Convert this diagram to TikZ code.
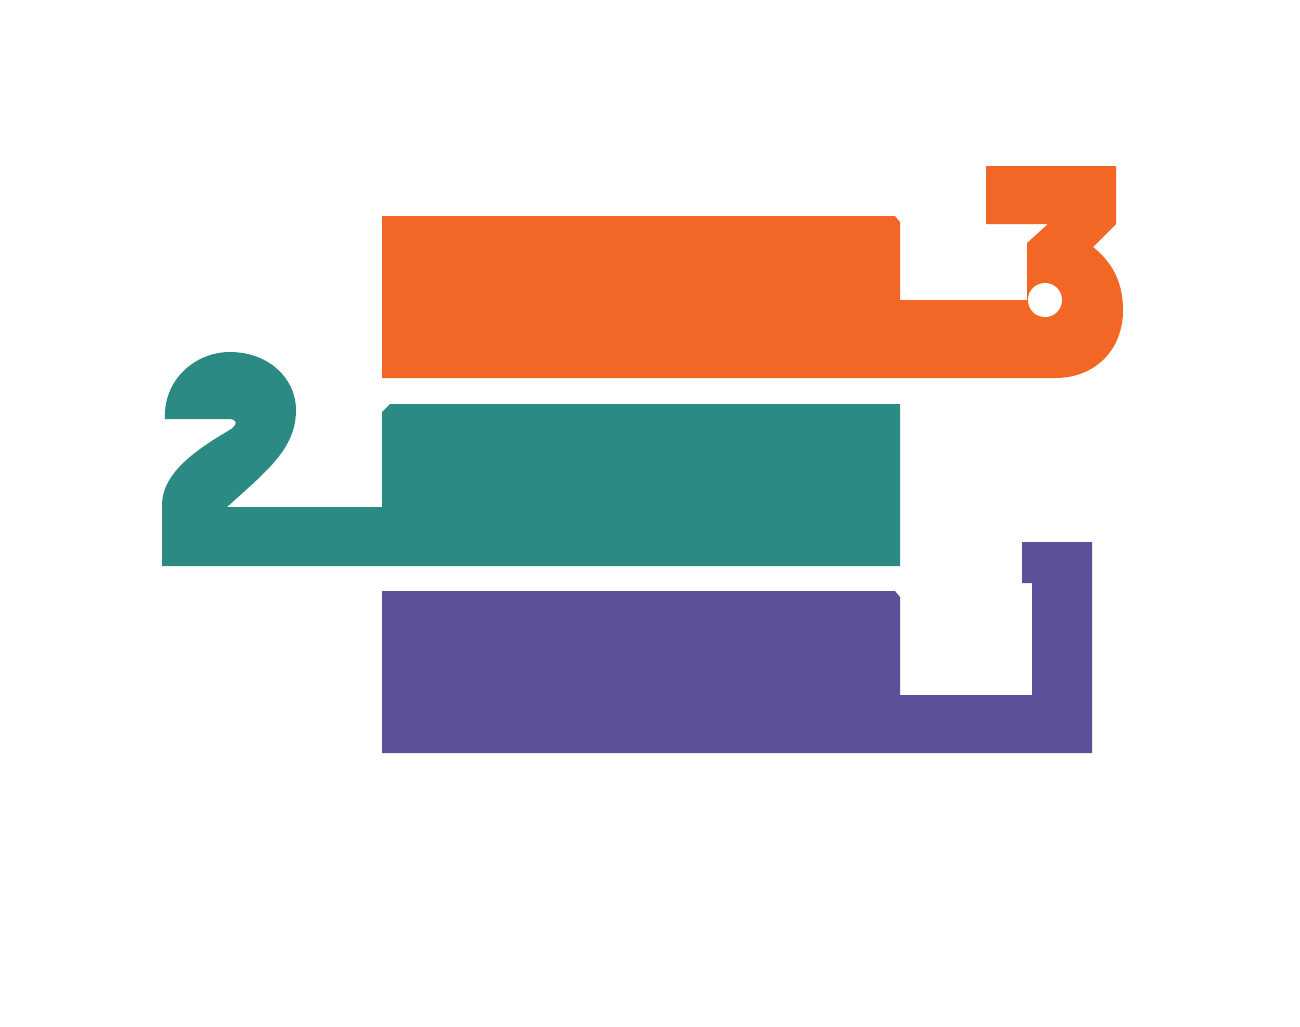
\documentclass[tikz,border=0pt]{standalone}
\usetikzlibrary{calc}
\definecolor{stepO}{HTML}{F36726}
\definecolor{stepT}{HTML}{2C8A84}
\definecolor{stepP}{HTML}{5E4F9B}
\tikzset{
  px/.style={x=0.01cm, y=-0.01cm},
  band/.style={line join=round},
  three/.style={band, fill=stepO},
  two/.style={band, fill=stepT},
  one/.style={band, fill=stepP},
  hole/.style={fill=white},
}
\begin{document}
\begin{tikzpicture}[px]
\useasboundingbox (0,0) rectangle (1300,1026);
\fill[white] (0,0) rectangle (1300,1026);
% step 3: bar and its digit
\fill[three] (382,216) -- (895,216) -- (900,222) -- (900,300) -- (1027,300) -- (1027,243)
  -- (1048,224) -- (986,224) -- (986,166) -- (1116,166) -- (1116,224) -- (1093,247)
  .. controls (1112,262) and (1123,282) .. (1123,310)
  .. controls (1123,350) and (1095,378) .. (1055,378) -- (382,378) -- cycle;
\fill[hole] (1045,300) circle (0.17cm);
% step 2
\fill[two] (162,566) -- (162,505) .. controls (162,475) and (192,452) .. (228,431)
  .. controls (239,425) and (238,418) .. (226,419) -- (165,419)
  .. controls (163,380) and (195,352) .. (230,352)
  .. controls (268,352) and (296,378) .. (296,410)
  .. controls (296,448) and (268,470) .. (227,507)
  -- (382,507) -- (382,412) -- (390,404) -- (900,404) -- (900,566) -- cycle;
% step 1
\fill[one] (382,591) -- (895,591) -- (900,597) -- (900,695) -- (1032,695) -- (1032,583)
  -- (1022,583) -- (1022,542) -- (1092,542) -- (1092,753) -- (382,753) -- cycle;
\end{tikzpicture}
\end{document}
